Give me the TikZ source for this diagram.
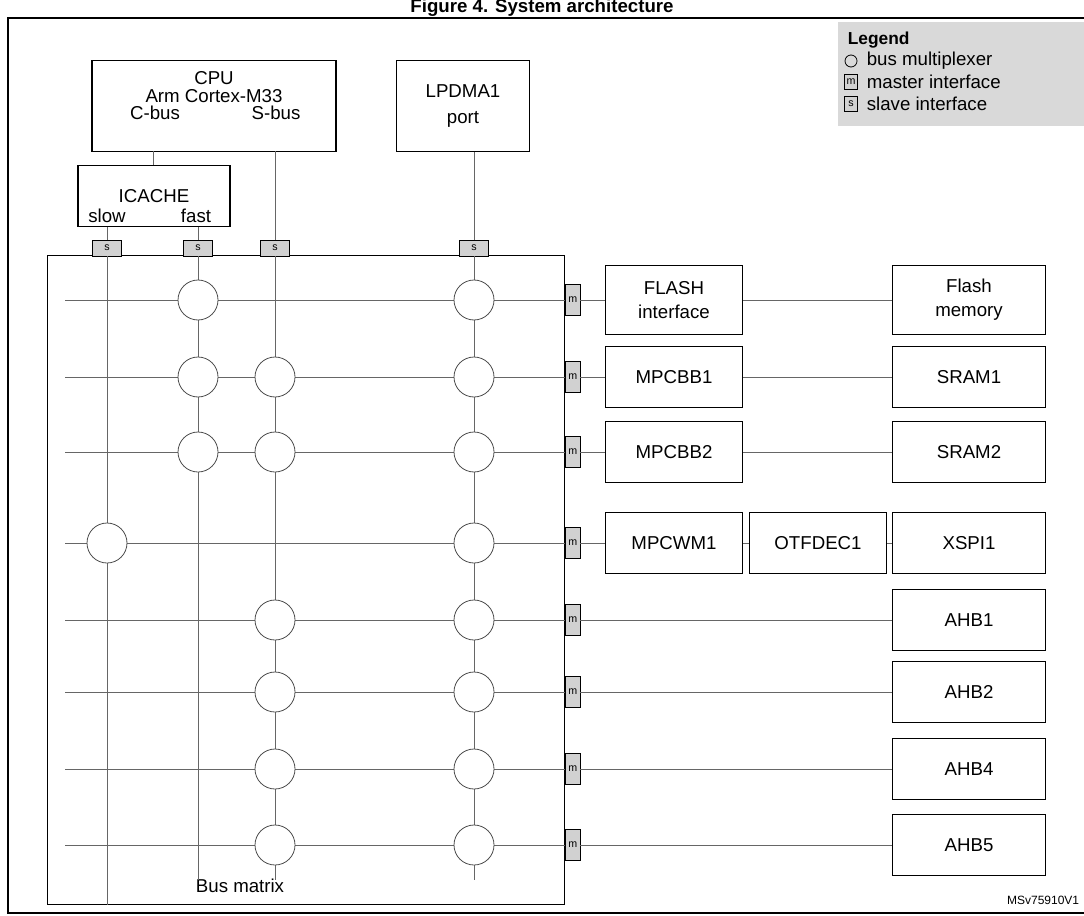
\documentclass[tikz,border=0pt]{standalone}
\usepackage{fontspec}
\setmainfont{Liberation Sans}
\usetikzlibrary{positioning}
\begin{document}
\begin{tikzpicture}[x=0.75pt,y=-0.75pt,semithick,font=\fontsize{14}{16}\selectfont,
  blk/.style={draw=black,thick,fill=white,align=center,inner sep=0pt},
  bus/.style={draw=black!60,thin},
  mux/.style={circle,draw=black!70,fill=white,minimum size=30pt,inner sep=0pt},
  port/.style={draw=black,fill=black!18,inner sep=0pt,font=\fontsize{8}{9}\selectfont}]
 \useasboundingbox (0,0) rectangle (1084,916);
 \clip (0,0) rectangle (1084,916);
 \node[font=\bfseries\fontsize{14}{16}\selectfont] (title) at (542,8) {Figure 4. System architecture};
 \draw[thick] (8,18) rectangle (1090,913);
 % legend
 \fill[black!15] (838,22) rectangle (1090,126);
 \node[anchor=west,font=\bfseries\fontsize{13}{15}\selectfont] (leg) at (843,40) {Legend};
 \node[circle,draw,minimum size=9pt,inner sep=0pt] (lc) at (851,61) {};
 \node[anchor=west] (lt1) at (862,61) {bus multiplexer};
 \node[port,minimum width=10pt,minimum height=11pt] (lm) at (851,82) {m};
 \node[anchor=west] (lt2) at (862,82) {master interface};
 \node[port,minimum width=10pt,minimum height=11pt] (ls) at (851,104) {s};
 \node[anchor=west] (lt3) at (862,104) {slave interface};
 % masters
 \node[blk,minimum width=183pt,minimum height=68pt] (cpu) at (214,106) {};
 \node (cpuT) at (214,78) {CPU};
 \node (cpuA) at (214,96) {Arm Cortex-M33};
 \node (cbus) at (155,113) {C-bus};
 \node (sbus) at (276,113) {S-bus};
 \node[blk,minimum width=100pt,minimum height=68pt] (dma) at (463,106) {LPDMA1\\[4pt]port};
 \node[blk,minimum width=114pt,minimum height=46pt] (icache) at (154,196) {};
 \node (icT) at (154,196) {ICACHE};
 \node (slow) at (107,216) {slow};
 \node (fast) at (196,216) {fast};
 \draw[bus] (153,151) -- (icache.north -| 153,0);
 % bus matrix
 \node[draw,thick,minimum width=388pt,minimum height=487pt,inner sep=0pt] (bm) at (306,580) {};
 \node (bml) at (240,886) {Bus matrix};
 \foreach \x/\n in {107/s1,198/s2,275/s3,474/s4}
   \node[port,minimum width=22pt,minimum height=12pt] (\n) at (\x,248) {s};
 \draw[bus] (107,227) -- (s1) (198,227) -- (s2) (275,151) -- (s3) (dma.south -| 474,0) -- (s4);
 \draw[bus] (s1) -- (107,905) (s2) -- (198,880) (s3) -- (275,880) (s4) -- (474,880);
 \foreach \r/\y in {1/300,2/377,3/452,4/543,5/620,6/692,7/769,8/845} {
   \node[port,minimum width=11pt,minimum height=23pt,anchor=west] (m\r) at (565,\y) {m};
   \draw[bus] (65,\y) -- (m\r.west);
 }
 \foreach \y in {300,377,452} \node[mux] at (198,\y) {};
 \foreach \y in {377,452,620,692,769,845} \node[mux] at (275,\y) {};
 \foreach \y in {300,377,452,543,620,692,769,845} \node[mux] at (474,\y) {};
 \node[mux] at (107,543) {};
 % slaves
 \tikzset{sl/.style={blk,minimum width=103pt,minimum height=46pt},
          mem/.style={blk,minimum width=115pt,minimum height=46pt}}
 \node[sl,minimum height=52pt] (flif) at (674,300) {FLASH\\[2pt]interface};
 \node[mem,minimum height=52pt] (flm) at (969,300) {Flash\\[2pt]memory};
 \node[sl] (mpcbb1) at (674,377) {MPCBB1};
 \node[mem] (sram1) at (969,377) {SRAM1};
 \node[sl] (mpcbb2) at (674,452) {MPCBB2};
 \node[mem] (sram2) at (969,452) {SRAM2};
 \node[sl] (mpcwm1) at (674,543) {MPCWM1};
 \node[sl] (otf) at (818,543) {OTFDEC1};
 \node[mem] (xspi) at (969,543) {XSPI1};
 \node[mem] (ahb1) at (969,620) {AHB1};
 \node[mem] (ahb2) at (969,692) {AHB2};
 \node[mem] (ahb4) at (969,769) {AHB4};
 \node[mem] (ahb5) at (969,845) {AHB5};
 \draw[bus] (m1) -- (flif) -- (flm);
 \draw[bus] (m2) -- (mpcbb1) -- (sram1);
 \draw[bus] (m3) -- (mpcbb2) -- (sram2);
 \draw[bus] (m4) -- (mpcwm1) -- (otf) -- (xspi);
 \draw[bus] (m5) -- (ahb1);
 \draw[bus] (m6) -- (ahb2);
 \draw[bus] (m7) -- (ahb4);
 \draw[bus] (m8) -- (ahb5);
 \node[font=\fontsize{9}{10}\selectfont,anchor=east] (id) at (1084,900) {MSv75910V1};
\end{tikzpicture}
\end{document}
